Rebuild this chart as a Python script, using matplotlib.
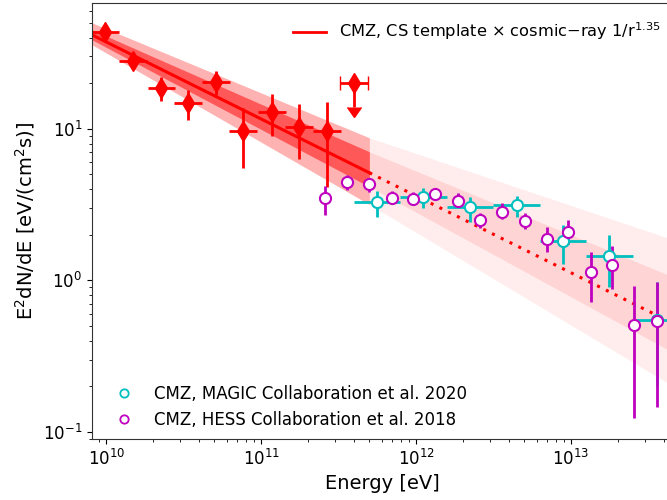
import numpy as np
import matplotlib
matplotlib.use("Agg")
import matplotlib.pyplot as plt
from matplotlib.lines import Line2D

# Fermi-LAT CMZ points (red diamonds)
fermi_E = [9.86e9, 1.49e10, 2.27e10, 3.38e10, 5.13e10, 7.66e10, 1.18e11, 1.76e11, 2.67e11]
fermi_Elo = [8.0e9, 1.21e10, 1.85e10, 2.75e10, 4.17e10, 6.23e10, 9.6e10, 1.43e11, 2.17e11]
fermi_Ehi = [1.21e10, 1.83e10, 2.79e10, 4.16e10, 6.31e10, 9.42e10, 1.45e11, 2.16e11, 3.28e11]
fermi_flux = [43.4, 28.0, 18.6, 14.8, 20.4, 9.7, 12.9, 10.3, 9.7]
fermi_hi = [46.0, 30.5, 22.0, 18.1, 24.1, 13.8, 17.0, 14.6, 15.1]
fermi_lo = [41.0, 25.8, 15.3, 11.5, 16.7, 5.54, 9.0, 6.35, 4.15]

# upper limit
ul_E = [3.98e11]
ul_Elo = [3.24e11]
ul_Ehi = [4.9e11]
ul_flux = [20.1]
ul_arrow = [13.9]

# MAGIC 2020
magic_E = [5.6e11, 1.11e12, 2.23e12, 4.48e12, 8.87e12, 1.76e13, 3.59e13]
magic_Elo = [3.95e11, 7.9e11, 1.58e12, 3.16e12, 6.3e12, 1.25e13, 2.5e13]
magic_Ehi = [7.9e11, 1.58e12, 3.16e12, 6.3e12, 1.25e13, 2.5e13, 5.0e13]
magic_flux = [3.31, 3.57, 3.07, 3.16, 1.83, 1.44, 0.546]
magic_hi = [3.91, 4.09, 3.57, 3.63, 2.33, 1.98, 0.98]
magic_lo = [2.64, 3.02, 2.44, 2.64, 1.29, 0.90, 0.201]

# HESS 2018
hess_E = [2.59e11, 3.59e11, 4.98e11, 7.0e11, 9.57e11, 1.33e12, 1.87e12, 2.59e12,
          3.59e12, 5.05e12, 7.0e12, 9.57e12, 1.35e13, 1.84e13, 2.55e13, 3.59e13]
hess_flux = [3.52, 4.48, 4.35, 3.52, 3.45, 3.73, 3.36, 2.52,
             2.84, 2.48, 1.89, 2.10, 1.13, 1.26, 0.506, 0.537]
hess_hi = [4.22, 4.98, 4.77, 3.91, 3.85, 4.09, 3.79, 2.80,
           3.22, 2.80, 2.26, 2.52, 1.53, 1.70, 0.914, 0.984]
hess_lo = [2.72, 3.97, 3.85, 3.21, 3.15, 3.47, 3.07, 2.23,
           2.56, 2.20, 1.55, 1.73, 0.716, 0.873, 0.124, 0.146]

# model: CS template x cosmic-ray 1/r^1.35 (split at 500 GeV)
model_E = [8e9, 5e11, 5e13]
model_flux = [41.9, 5.13, 0.498]
band1_hi = [45.2, 7.06, 1.015]
band1_lo = [38.9, 4.15, 0.318]
band2_hi = [50.3, 8.73, 1.80]
band2_lo = [36.1, 3.17, 0.19]

plt.rcParams['font.size'] = 12

fig = plt.figure(figsize=(6.67, 5), dpi=100)
ax = fig.add_axes([0.138, 0.122, 0.8696, 0.872])

E = np.array(model_E)
# fitted range (0..1), extrapolation (1..2)
for sl, a2, a1 in [(slice(0, 2), 0.3, 0.5), (slice(1, 3), 0.07, 0.1)]:
    ax.fill_between(E[sl], np.array(band2_lo)[sl], np.array(band2_hi)[sl],
                    color='red', alpha=a2, lw=0)
    ax.fill_between(E[sl], np.array(band1_lo)[sl], np.array(band1_hi)[sl],
                    color='red', alpha=a1, lw=0)

ax.plot(E[:2], model_flux[:2], color='red', lw=2.2)
ax.plot(E[1:], model_flux[1:], color='red', lw=2.2, ls=(0, (1, 2.2)))

# Fermi points
fE = np.array(fermi_E)
fF = np.array(fermi_flux)
ax.errorbar(fE, fF,
            xerr=[fE - np.array(fermi_Elo), np.array(fermi_Ehi) - fE],
            yerr=[fF - np.array(fermi_lo), np.array(fermi_hi) - fF],
            fmt='d', color='red', ms=10, elinewidth=2, capsize=0)
uE = np.array(ul_E)
uF = np.array(ul_flux)
ax.errorbar(uE, uF,
            xerr=[uE - np.array(ul_Elo), np.array(ul_Ehi) - uE],
            yerr=uF - np.array(ul_arrow), uplims=True,
            fmt='d', color='red', ms=10, elinewidth=2, capsize=5)

# MAGIC
mE = np.array(magic_E)
mF = np.array(magic_flux)
ax.errorbar(mE, mF,
            xerr=[mE - np.array(magic_Elo), np.array(magic_Ehi) - mE],
            yerr=[mF - np.array(magic_lo), np.array(magic_hi) - mF],
            fmt='o', color='c', mfc='white', mec='c', mew=1.5, ms=8,
            elinewidth=2, capsize=0)

# HESS
hE = np.array(hess_E)
hF = np.array(hess_flux)
ax.errorbar(hE, hF,
            yerr=[hF - np.array(hess_lo), np.array(hess_hi) - hF],
            fmt='o', color='m', mfc='white', mec='m', mew=1.5, ms=8,
            elinewidth=2, capsize=0)

ax.set_xscale('log')
ax.set_yscale('log')
ax.set_xlim(8.1e9, 4.5e13)
ax.set_ylim(0.09, 67.6)
ax.set_xlabel('Energy [eV]', fontsize=14)
ax.set_ylabel(r'E$^2$dN/dE [eV/(cm$^2$s)]', fontsize=14)
for s in ax.spines.values():
    s.set_color('#333333')

leg1 = ax.legend([Line2D([], [], color='red', lw=2)],
                 [r'CMZ, CS template $\times$ cosmic$-$ray 1/r$^{1.35}$'],
                 loc='upper right', frameon=False, fontsize=11.7,
                 bbox_to_anchor=(1.005, 0.993))
ax.add_artist(leg1)
h_magic = Line2D([], [], ls='none', marker='o', mfc='white', mec='c', ms=6, mew=1.3)
h_hess = Line2D([], [], ls='none', marker='o', mfc='white', mec='m', ms=6, mew=1.3)
ax.legend([h_magic, h_hess],
          ['CMZ, MAGIC Collaboration et al. 2020', 'CMZ, HESS Collaboration et al. 2018'],
          loc='lower left', frameon=False, fontsize=12,
          bbox_to_anchor=(0.0, -0.012))

fig.savefig('out.png', dpi=100)
